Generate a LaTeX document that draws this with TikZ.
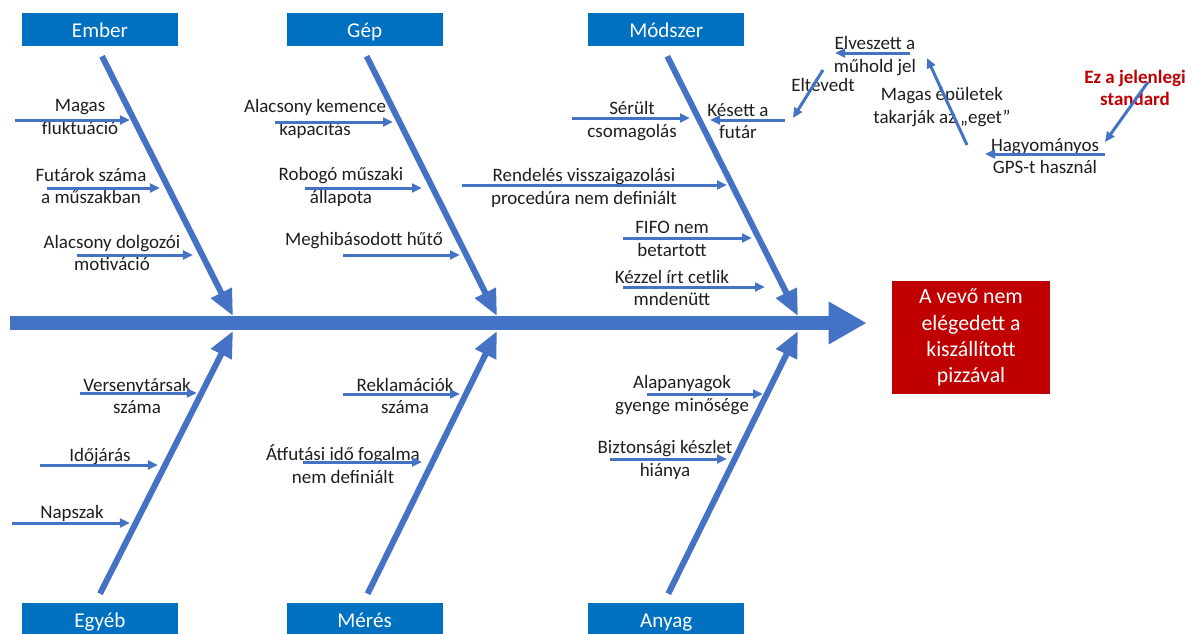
\documentclass[tikz,border=0pt]{standalone}
\usepackage{fontspec}
\setmainfont{Carlito}
\usepackage{tikz}
\usetikzlibrary{arrows.meta, positioning}
\definecolor{kekdoboz}{HTML}{0070C0}
\definecolor{keknyil}{HTML}{4472C4}
\definecolor{piros}{HTML}{C00000}
\definecolor{szoveg}{HTML}{1E1E1E}

\begin{document}
\begin{tikzpicture}[
    x=0.025cm, y=-0.025cm,
    kategoria/.style={rectangle, fill=kekdoboz, minimum width=3.9cm, minimum height=0.825cm, inner sep=0pt, text height=11pt, text depth=0pt, text=white, font=\fontsize{15}{18}\selectfont},
    okozat/.style={rectangle, fill=piros, minimum width=3.95cm, minimum height=2.83cm, align=center, text=white, font=\fontsize{15.5}{18.6}\selectfont},
    ok/.style={align=center, inner sep=0pt, text=szoveg, font=\fontsize{13.5}{16}\selectfont},
    gerinc/.style={-{Triangle[length=0.95cm, width=1cm]}, draw=keknyil, line width=0.35cm},
    csont/.style={-{Triangle[length=0.65cm, width=0.55cm]}, draw=keknyil, line width=0.15cm},
    nyil/.style={-{Triangle[length=0.25cm, width=0.22cm]}, draw=keknyil, line width=0.075cm}
  ]
  \useasboundingbox (0,0) rectangle (1192,633);

  % Kategoriak (fent)
  \node[kategoria] (ember) at (100,29.5) {Ember};
  \node[kategoria, right=2.7cm of ember] (gep) {Gép};
  \node[kategoria, right=3.625cm of gep] (modszer) {Módszer};

  % Kategoriak (lent)
  \node[kategoria] (egyeb) at (100,619.5) {Egyéb};
  \node[kategoria, right=2.7cm of egyeb] (meres) {Mérés};
  \node[kategoria, right=3.625cm of meres] (anyag) {Anyag};

  % Okozat
  \node[okozat] (hatas) at (971,337.5) {A vevő nem\\elégedett a\\kiszállított\\pizzával};

  % Gerinc
  \coordinate (gkezdet) at (10,323);
  \draw[gerinc] (gkezdet) -- ([shift={(-25,-14.5)}]hatas.west);

  % Csontok
  \coordinate (c1) at (233,316); \coordinate (c2) at (497,316); \coordinate (c3) at (798,316);
  \coordinate (c4) at (233,331); \coordinate (c5) at (497,331); \coordinate (c6) at (798,331);
  \draw[csont] ([shift={(2,10)}]ember.south) -- (c1);
  \draw[csont] ([shift={(2,10)}]gep.south) -- (c2);
  \draw[csont] ([shift={(1,10)}]modszer.south) -- (c3);
  \draw[csont] ([shift={(0,-9)}]egyeb.north) -- (c4);
  \draw[csont] ([shift={(3,-9)}]meres.north) -- (c5);
  \draw[csont] ([shift={(2,-9)}]anyag.north) -- (c6);

  % Ember
  \node[ok] (e1) at (80,117) {Magas\\fluktuáció};
  \coordinate (e1a) at (15,120); \coordinate (e1b) at (130,120); \draw[nyil] (e1a) -- (e1b);
  \node[ok] (e2) at (91,186) {Futárok száma\\a műszakban};
  \coordinate (e2a) at (47,188); \coordinate (e2b) at (160,188); \draw[nyil] (e2a) -- (e2b);
  \node[ok] (e3) at (112,253) {Alacsony dolgozói\\motiváció};
  \coordinate (e3a) at (77,255); \coordinate (e3b) at (193,255); \draw[nyil] (e3a) -- (e3b);

  % Gep
  \node[ok] (g1) at (315,119) {Alacsony kemence\\kapacitás};
  \coordinate (g1a) at (275,122); \coordinate (g1b) at (393,122); \draw[nyil] (g1a) -- (g1b);
  \node[ok] (g2) at (341,187) {Robogó műszaki\\állapota};
  \coordinate (g2a) at (305,188); \coordinate (g2b) at (422,188); \draw[nyil] (g2a) -- (g2b);
  \node[ok] (g3) at (364,241) {Meghibásodott hűtő};
  \coordinate (g3a) at (343,255); \coordinate (g3b) at (460,255); \draw[nyil] (g3a) -- (g3b);

  % Modszer
  \node[ok] (m1) at (632,121) {Sérült\\csomagolás};
  \coordinate (m1a) at (572,118); \coordinate (m1b) at (690,118); \draw[nyil] (m1a) -- (m1b);
  \node[ok] (m2) at (738,121) {Késett a\\futár};
  \coordinate (m2a) at (785,120); \coordinate (m2b) at (710,120); \draw[nyil] (m2a) -- (m2b);
  \node[ok] (m3) at (584,188) {Rendelés visszaigazolási\\procedúra nem definiált};
  \coordinate (m3a) at (462,185); \coordinate (m3b) at (727,185); \draw[nyil] (m3a) -- (m3b);
  \node[ok] (m4) at (672,239) {FIFO nem\\betartott};
  \coordinate (m4a) at (623,238); \coordinate (m4b) at (752,238); \draw[nyil] (m4a) -- (m4b);
  \node[ok] (m5) at (672,288) {Kézzel írt cetlik\\mndenütt};
  \coordinate (m5a) at (623,287); \coordinate (m5b) at (765,287); \draw[nyil] (m5a) -- (m5b);

  % Kesett a futar - lanc
  \node[ok] (k1) at (875,56) {Elveszett a\\műhold jel};
  \coordinate (k1a) at (910,53); \coordinate (k1b) at (835,53); \draw[nyil] (k1a) -- (k1b);
  \node[ok] (k2) at (823,85) {Eltévedt};
  \coordinate (k2a) at (823,70); \coordinate (k2b) at (793,118); \draw[nyil] (k2a) -- (k2b);
  \node[ok] (k3) at (942,107) {Magas épületek\\takarják az „eget”};
  \coordinate (k3a) at (967,145); \coordinate (k3b) at (927,58); \draw[nyil] (k3a) -- (k3b);
  \node[ok] (k4) at (1045,156) {Hagyományos\\GPS-t használ};
  \coordinate (k4a) at (1105,154); \coordinate (k4b) at (985,154); \draw[nyil] (k4a) -- (k4b);
  \node[ok, text=piros, font=\fontsize{13.5}{16}\selectfont\bfseries] (k5) at (1135,88) {Ez a jelenlegi\\standard};
  \coordinate (k5a) at (1148,82); \coordinate (k5b) at (1105,142); \draw[nyil] (k5a) -- (k5b);

  % Egyeb
  \node[ok] (b1) at (137,396) {Versenytársak\\száma};
  \coordinate (b1a) at (80,393); \coordinate (b1b) at (197,393); \draw[nyil] (b1a) -- (b1b);
  \node[ok] (b2) at (100,457) {Időjárás};
  \coordinate (b2a) at (40,465); \coordinate (b2b) at (158,465); \draw[nyil] (b2a) -- (b2b);
  \node[ok] (b3) at (72,513) {Napszak};
  \coordinate (b3a) at (12,523); \coordinate (b3b) at (130,523); \draw[nyil] (b3a) -- (b3b);

  % Meres
  \node[ok] (r1) at (405,396) {Reklamációk\\száma};
  \coordinate (r1a) at (343,394); \coordinate (r1b) at (460,394); \draw[nyil] (r1a) -- (r1b);
  \node[ok] (r2) at (343,464) {Átfutási idő fogalma\\nem definiált};
  \coordinate (r2a) at (303,462); \coordinate (r2b) at (422,462); \draw[nyil] (r2a) -- (r2b);

  % Anyag
  \node[ok] (a1) at (682,395) {Alapanyagok\\gyenge minősége};
  \coordinate (a1a) at (647,394); \coordinate (a1b) at (763,394); \draw[nyil] (a1a) -- (a1b);
  \node[ok] (a2) at (665,460) {Biztonsági készlet\\hiánya};
  \coordinate (a2a) at (610,459); \coordinate (a2b) at (727,459); \draw[nyil] (a2a) -- (a2b);
\end{tikzpicture}
\end{document}
